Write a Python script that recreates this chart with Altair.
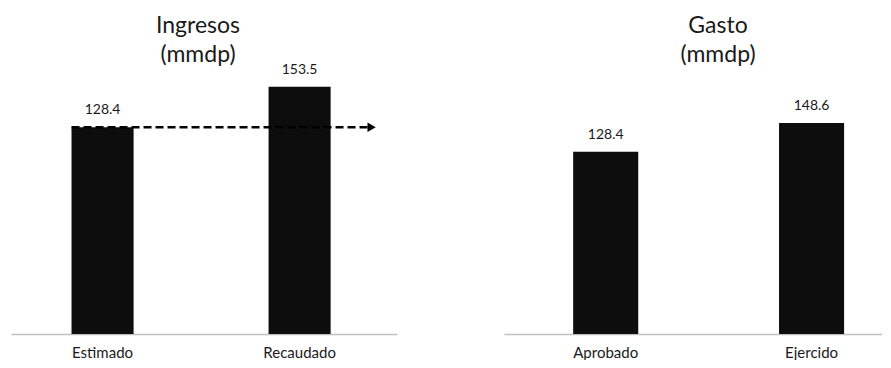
import altair as alt
import pandas as pd

ingresos_cats = ["Estimado", "Recaudado"]
ingresos_vals = [128.4, 153.5]
gasto_cats = ["Aprobado", "Ejercido"]
gasto_vals = [128.4, 148.6]
ingresos_ref = 128.4  # level of the dashed arrow

FONT = "Lato"
H = 276
TXT = "#1a1a1a"


def xenc(cats, pi, po, align, **kw):
    return alt.X(
        "cat:N",
        sort=cats,
        scale=alt.Scale(paddingInner=pi, paddingOuter=po, align=align),
        axis=alt.Axis(
            title=None, labelAngle=0, ticks=False, tickSize=0, grid=False,
            domainColor="#bfbfbf", domainWidth=1.5,
            labelFont=FONT, labelFontSize=15, labelColor=TXT, labelPadding=11,
        ),
        **kw,
    )


def panel(cats, vals, title, W, pi, po, align, ymax, dx, arrow=None):
    df = pd.DataFrame({"cat": cats, "val": vals, "label": [f"{v:.1f}" for v in vals]})
    y = alt.Y("val:Q", scale=alt.Scale(domain=[0, ymax], nice=False, zero=True), axis=None)
    base = alt.Chart(df)
    bars = base.mark_bar(color="#0d0d0d").encode(x=xenc(cats, pi, po, align), y=y)
    text = base.mark_text(font=FONT, fontSize=14, dy=-17, baseline="middle", color=TXT).encode(
        x=xenc(cats, pi, po, align), y=y, text="label:N"
    )
    layers = [bars, text]
    if arrow is not None:
        adf = pd.DataFrame({"cat": [cats[0]], "cat_end": [cats[1]], "val": [arrow]})
        rule = alt.Chart(adf).mark_rule(strokeDash=[8, 4], strokeWidth=2.5, color="#000000", x2Offset=38).encode(
            x=xenc(cats, pi, po, align, bandPosition=0),
            x2=alt.X2("cat_end:N", bandPosition=1),
            y=y,
        )
        hdf = pd.DataFrame({"cat": [cats[1]], "val": [arrow]})
        head = alt.Chart(hdf).mark_point(shape="triangle-right", filled=True, size=90, color="#000000",
                                         opacity=1, xOffset=41).encode(
            x=xenc(cats, pi, po, align, bandPosition=1),
            y=y,
        )
        layers += [rule, head]
    return alt.layer(*layers).properties(
        width=W,
        height=H,
        title=alt.TitleParams(
            text=title, font=FONT, fontSize=23, fontWeight="normal", color=TXT,
            lineHeight=29, anchor="middle", dx=dx, offset=-9, frame="group",
        ),
    )


left = panel(ingresos_cats, ingresos_vals, ["Ingresos", "(mmdp)"], 386, 0.685, 0.322, 0.477,
             H / 1.61, -6, arrow=ingresos_ref)
right = panel(gasto_cats, gasto_vals, ["Gasto", "(mmdp)"], 378, 0.684, 0.26, 0.646,
              H / 1.42, 25)

chart = alt.hconcat(left, right, spacing=107).properties(
    padding={"left": 3, "top": 7, "right": 0, "bottom": 0}
).configure(background="white").configure_view(stroke=None, strokeWidth=0)

chart.save("out.html", embed_options={"renderer": "svg", "actions": False})
